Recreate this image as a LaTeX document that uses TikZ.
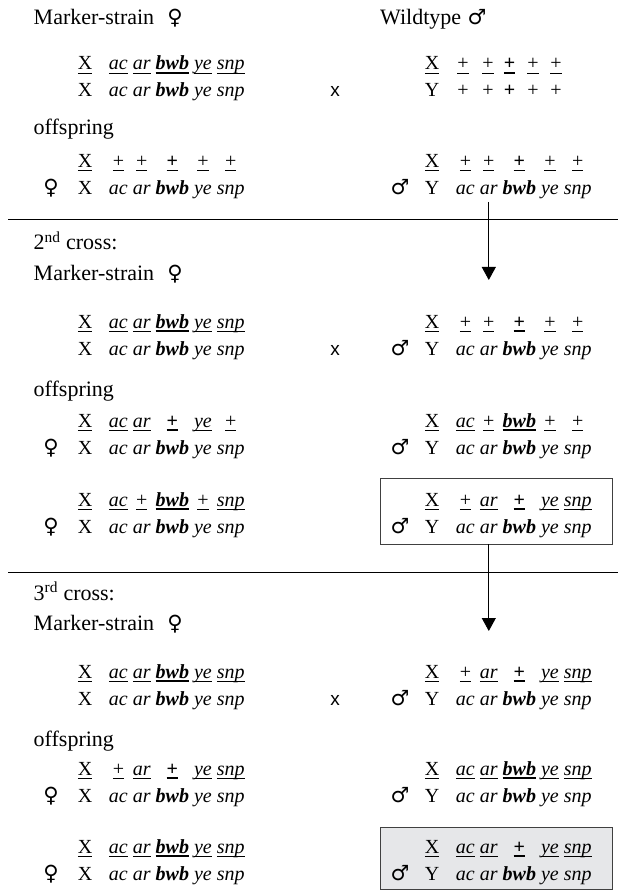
\documentclass[tikz,border=0pt]{standalone}
\usepackage{fontspec}
\setmainfont{Liberation Serif}
\newfontfamily\symfont{DejaVu Sans}
\newfontfamily\crossfont{Liberation Sans}
\usetikzlibrary{arrows.meta}
\definecolor{boxgray}{RGB}{230,231,233}
\newsavebox\ulbox
\newcommand\ul[1]{\sbox\ulbox{#1}\rlap{\rule[-3.6pt]{\wd\ulbox}{0.9pt}}\usebox\ulbox}
\newcommand\ulb[1]{\sbox\ulbox{#1}\rlap{\rule[-4.0pt]{\wd\ulbox}{1.8pt}}\usebox\ulbox}
\newcommand\Tac{\ul{\textit{ac}}}
\newcommand\Tar{\ul{\textit{ar}}}
\newcommand\Tbwb{\ulb{\textbf{\textit{bwb}}}}
\newcommand\Tye{\ul{\textit{ye}}}
\newcommand\Tsnp{\ul{\textit{snp}}}
\newcommand\Tp{\ul{+}}
\newcommand\Tpb{\ulb{\textbf{+}}}
% #1 name, #2 x of chromosome letter, #3 top baseline, #4 lower chromosome, #5-#9 upper alleles
\newcommand\pair[9]{%
  \node[gt] (#1X) at (#2,#3) {\ul{X}};
  \node[gt] (#1C) at (#2,#3+27) {#4};
  \node[gt] (#1t1) at (#2+33.4,#3) {#5};
  \node[gt] (#1t2) at (#2+56.8,#3) {#6};
  \node[gt] (#1t3) at (#2+87.4,#3) {#7};
  \node[gt] (#1t4) at (#2+117.9,#3) {#8};
  \node[gt] (#1t5) at (#2+145.7,#3) {#9};
  \node[gt] (#1b1) at (#2+33.4,#3+27) {\textit{ac}};
  \node[gt] (#1b2) at (#2+56.8,#3+27) {\textit{ar}};
  \node[gt] (#1b3) at (#2+87.4,#3+27) {\textbf{\textit{bwb}}};
  \node[gt] (#1b4) at (#2+117.9,#3+27) {\textit{ye}};
  \node[gt] (#1b5) at (#2+145.7,#3+27) {\textit{snp}};
}
\tikzset{
  gt/.style={anchor=base, inner sep=0pt, font=\fontsize{20}{24}\selectfont},
  lbl/.style={anchor=base west, inner sep=0pt, font=\fontsize{22}{26}\selectfont},
  sex/.style={anchor=base, inner sep=0pt, font=\symfont\fontsize{21}{24}\selectfont},
  cross/.style={anchor=base, inner sep=0pt, font=\crossfont\fontsize{19}{22}\selectfont},
  sepline/.style={line width=0.9pt},
  arr/.style={line width=0.9pt, -{Triangle[length=13pt,width=14pt]}},
  selbox/.style={draw=black!75, line width=0.9pt, inner sep=0pt, minimum width=232pt, minimum height=66pt},
}
\begin{document}
\begin{tikzpicture}[x=1pt,y=-1pt]
\useasboundingbox (0,0) rectangle (618,890);
% ---------- first cross
\node[lbl] (ms1) at (33.5,25) {Marker-strain};
\node[sex] (ms1s) at (175,25) {♀};
\node[lbl] (wt) at (380,25) {Wildtype};
\node[sex] (wts) at (477,25) {♂};
\pair{pa}{85}{70}{X}{\Tac}{\Tar}{\Tbwb}{\Tye}{\Tsnp}
\node[cross] (x1) at (335,97) {x};
\node[gt] (waX) at (432,70) {\ul{X}};
\node[gt] (waY) at (432,97) {Y};
\foreach \i/\xx in {1/463,2/488,4/533,5/556}{
  \node[gt] (wat\i) at (\xx,70) {\Tp};
  \node[gt] (wab\i) at (\xx,97) {+};
}
\node[gt] (wat3) at (509.5,70) {\Tpb};
\node[gt] (wab3) at (509.5,97) {\textbf{+}};
\node[lbl] (of1) at (33.5,135) {offspring};
\pair{oaf}{85}{167.5}{X}{\Tp}{\Tp}{\Tpb}{\Tp}{\Tp}
\node[sex] (oafs) at (51,194.5) {♀};
\pair{oam}{432}{167.5}{Y}{\Tp}{\Tp}{\Tpb}{\Tp}{\Tp}
\node[sex] (oams) at (400,194.5) {♂};
\coordinate (l1a) at (8,219.5);
\coordinate (l1b) at (618,219.5);
\draw[sepline] (l1a) -- (l1b);
\coordinate (a1) at (488.8,280);
\draw[arr] ([yshift=-7pt]oamb2.south) -- (a1);
% ---------- second cross
\node[lbl] (c2) at (33.5,250) {2\textsuperscript{nd} cross:};
\node[lbl] (ms2) at (33.5,280) {Marker-strain};
\node[sex] (ms2s) at (175,280) {♀};
\pair{pbf}{85}{328}{X}{\Tac}{\Tar}{\Tbwb}{\Tye}{\Tsnp}
\node[cross] (x2) at (335,355) {x};
\pair{pbm}{432}{328}{Y}{\Tp}{\Tp}{\Tpb}{\Tp}{\Tp}
\node[sex] (pbms) at (400,355) {♂};
\node[lbl] (of2) at (33.5,396) {offspring};
\pair{oba}{85}{427}{X}{\Tac}{\Tar}{\Tpb}{\Tye}{\Tp}
\node[sex] (obas) at (51,454) {♀};
\pair{obb}{432}{427}{Y}{\Tac}{\Tp}{\Tbwb}{\Tp}{\Tp}
\node[sex] (obbs) at (400,454) {♂};
\pair{obc}{85}{506}{X}{\Tac}{\Tp}{\Tbwb}{\Tp}{\Tsnp}
\node[sex] (obcs) at (51,533) {♀};
\node[selbox] (box1) at (496,511) {};
\pair{obd}{432}{506}{Y}{\Tp}{\Tar}{\Tpb}{\Tye}{\Tsnp}
\node[sex] (obds) at (400,533) {♂};
\coordinate (l2a) at (8,572);
\coordinate (l2b) at (618,572);
\draw[sepline] (l2a) -- (l2b);
\coordinate (a2) at (488.8,631);
\draw[arr] (box1.south -| obdb2) -- (a2);
% ---------- third cross
\node[lbl] (c3) at (33.5,600) {3\textsuperscript{rd} cross:};
\node[lbl] (ms3) at (33.5,630) {Marker-strain};
\node[sex] (ms3s) at (175,630) {♀};
\pair{pcf}{85}{678}{X}{\Tac}{\Tar}{\Tbwb}{\Tye}{\Tsnp}
\node[cross] (x3) at (335,705) {x};
\pair{pcm}{432}{678}{Y}{\Tp}{\Tar}{\Tpb}{\Tye}{\Tsnp}
\node[sex] (pcms) at (400,705) {♂};
\node[lbl] (of3) at (33.5,746) {offspring};
\pair{oca}{85}{775}{X}{\Tp}{\Tar}{\Tpb}{\Tye}{\Tsnp}
\node[sex] (ocas) at (51,802) {♀};
\pair{ocb}{432}{775}{Y}{\Tac}{\Tar}{\Tbwb}{\Tye}{\Tsnp}
\node[sex] (ocbs) at (400,802) {♂};
\pair{occ}{85}{853}{X}{\Tac}{\Tar}{\Tbwb}{\Tye}{\Tsnp}
\node[sex] (occs) at (51,880) {♀};
\node[selbox, fill=boxgray, minimum height=62pt] (box2) at (496,858) {};
\pair{ocd}{432}{853}{Y}{\Tac}{\Tar}{\Tpb}{\Tye}{\Tsnp}
\node[sex] (ocds) at (400,880) {♂};
\end{tikzpicture}
\end{document}
